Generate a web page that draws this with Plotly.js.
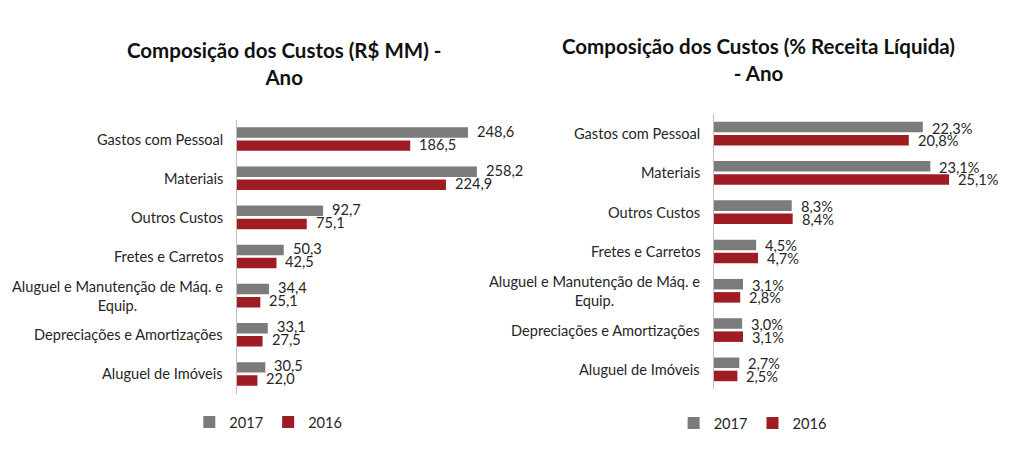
<!DOCTYPE html>
<html>
<head>
<meta charset="utf-8">
<script src="https://cdn.plot.ly/plotly-3.0.1.min.js"></script>
<style>
  html, body { margin: 0; padding: 0; background: #ffffff; }
  #chart { width: 1024px; height: 452px; }
</style>
</head>
<body>
<div id="chart"></div>
<script>
// ---- data ----
const categories = [
  'Gastos com Pessoal',
  'Materiais',
  'Outros Custos',
  'Fretes e Carretos',
  'Aluguel e Manutenção de Máq. e<br>Equip.',
  'Depreciações e Amortizações',
  'Aluguel de Imóveis'
];
const seriesNames = ['2017', '2016'];
const mm2017 = [248.6, 258.2, 92.7, 50.3, 34.4, 33.1, 30.5];
const mm2016 = [186.5, 224.9, 75.1, 42.5, 25.1, 27.5, 22.0];
const pct2017 = [22.3, 23.1, 8.3, 4.5, 3.1, 3.0, 2.7];
const pct2016 = [20.8, 25.1, 8.4, 4.7, 2.8, 3.1, 2.5];
const titleLeft = 'Composição dos Custos (R$ MM) -<br>Ano';
const titleRight = 'Composição dos Custos (% Receita Líquida)<br>- Ano';

// ---- style ----
const GRAY = '#7b7b7b';
const RED = '#a01c23';
const FONT = 'Lato, "Open Sans", sans-serif';
const TXT = '#262626';
const FS = 14.6;

const fmt = v => v.toFixed(1).replace('.', ',');
const fmtPct = v => fmt(v) + '%';

const traces = [
  {type: 'bar', orientation: 'h', name: seriesNames[0], y: categories, x: mm2017,
   marker: {color: GRAY}, xaxis: 'x', yaxis: 'y', legend: 'legend', hoverinfo: 'x'},
  {type: 'bar', orientation: 'h', name: seriesNames[1], y: categories, x: mm2016,
   marker: {color: RED}, xaxis: 'x', yaxis: 'y', legend: 'legend', hoverinfo: 'x'},
  {type: 'bar', orientation: 'h', name: seriesNames[0], y: categories, x: pct2017,
   marker: {color: GRAY}, xaxis: 'x2', yaxis: 'y2', legend: 'legend2', hoverinfo: 'x'},
  {type: 'bar', orientation: 'h', name: seriesNames[1], y: categories, x: pct2016,
   marker: {color: RED}, xaxis: 'x2', yaxis: 'y2', legend: 'legend2', hoverinfo: 'x'}
];

const annotations = [];
function addLabels(vals, xref, yref, shift, f) {
  vals.forEach((v, i) => {
    annotations.push({
      x: v, y: categories[i], xref: xref, yref: yref,
      text: f(v), showarrow: false, xanchor: 'left', yanchor: 'middle',
      xshift: 8, yshift: shift, borderpad: 0,
      font: {family: FONT, size: FS, color: TXT}
    });
  });
}
addLabels(mm2017, 'x', 'y', 8, fmt);
addLabels(mm2016, 'x', 'y', -5, fmt);
addLabels(pct2017, 'x2', 'y2', 5.5, fmtPct);
addLabels(pct2016, 'x2', 'y2', -7, fmtPct);

// category labels (centered multi-line, right-aligned block, like the original)
function addCats(xPaper, yref) {
  categories.forEach(c => {
    annotations.push({
      x: xPaper, y: c, xref: 'paper', yref: yref, text: c,
      showarrow: false, xanchor: 'right', yanchor: 'middle', align: 'center',
      xshift: -13, borderpad: 0,
      font: {family: FONT, size: FS, color: TXT}
    });
  });
}
addCats(237 / 1024, 'y');
addCats(714 / 1024, 'y2');

annotations.push({
  text: titleLeft, xref: 'paper', yref: 'paper', x: 0.277, y: (452 - 63) / 452,
  xanchor: 'center', yanchor: 'middle', showarrow: false,
  font: {family: FONT, size: 20.5, color: '#111111', weight: 'bold'}
});
annotations.push({
  text: titleRight, xref: 'paper', yref: 'paper', x: 0.741, y: (452 - 60) / 452,
  xanchor: 'center', yanchor: 'middle', showarrow: false,
  font: {family: FONT, size: 20.5, color: '#111111', weight: 'bold'}
});

const yCommon = {
  type: 'category', autorange: 'reversed', showgrid: false, zeroline: false,
  showline: true, linecolor: '#bfbfbf', linewidth: 1, ticks: '',
  showticklabels: false, fixedrange: true
};
const xCommon = {
  showgrid: false, zeroline: false, showline: false, showticklabels: false,
  ticks: '', fixedrange: true
};

const layout = {
  width: 1024, height: 452,
  margin: {l: 0, r: 0, t: 0, b: 0},
  paper_bgcolor: '#ffffff', plot_bgcolor: '#ffffff',
  barmode: 'group', bargap: 0.33, bargroupgap: 0.2,
  font: {family: FONT, color: TXT},
  showlegend: true,
  xaxis: Object.assign({}, xCommon, {domain: [237 / 1024, 520 / 1024], range: [0, (520 - 237) / 0.929], anchor: 'y'}),
  yaxis: Object.assign({}, yCommon, {domain: [(452 - 393.5) / 452, (452 - 119.5) / 452], anchor: 'x'}),
  xaxis2: Object.assign({}, xCommon, {domain: [714 / 1024, 1], range: [0, (1024 - 714) / 9.365], anchor: 'y2'}),
  yaxis2: Object.assign({}, yCommon, {domain: [(452 - 389) / 452, (452 - 114) / 452], anchor: 'x2'}),
  legend: {orientation: 'h', x: 0.262, xanchor: 'center', y: (452 - 422) / 452, yanchor: 'middle',
           font: {family: FONT, size: FS, color: TXT}, itemwidth: 30, bgcolor: 'rgba(0,0,0,0)'},
  legend2: {orientation: 'h', x: 0.735, xanchor: 'center', y: (452 - 423) / 452, yanchor: 'middle',
            font: {family: FONT, size: FS, color: TXT}, itemwidth: 30, bgcolor: 'rgba(0,0,0,0)'},
  annotations: annotations
};

Plotly.newPlot('chart', traces, layout, {displayModeBar: false, staticPlot: true});
</script>
</body>
</html>
